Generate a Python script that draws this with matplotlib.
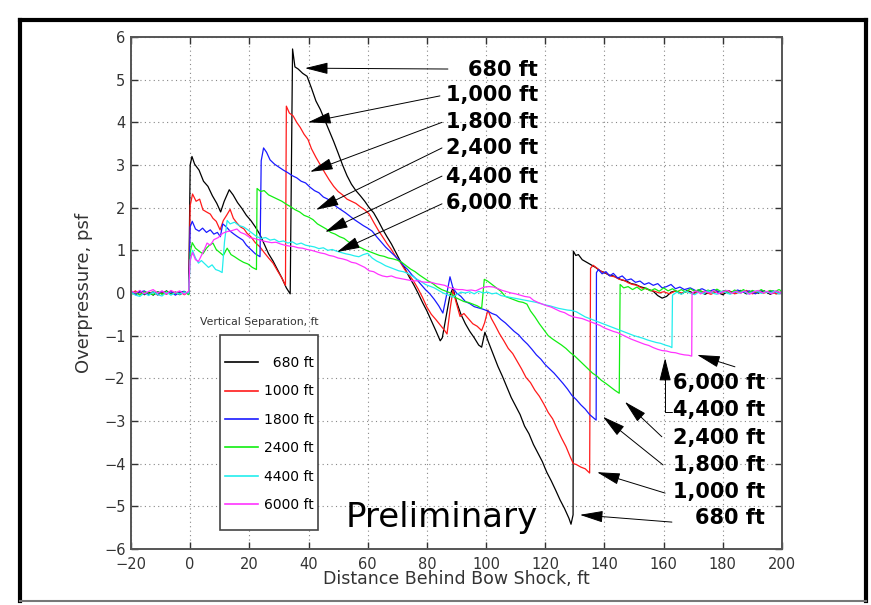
import numpy as np
import matplotlib
matplotlib.use("Agg")
import matplotlib.pyplot as plt
from matplotlib.lines import Line2D
from matplotlib.patches import Rectangle

# ---- measured signatures (distance behind bow shock [ft], overpressure [psf]) ----
sig_680 = [
    (-20, 0.04), (-18.5, -0.03), (-17, 0.05), (-15.5, -0.04), (-14, 0.02), (-12.5, -0.05), (-11, 0.03),
    (-9.5, -0.02), (-8, 0.05), (-6.5, -0.03), (-5, 0.02), (-3.5, -0.04), (-2, 0.03), (-0.5, -0.02),
    (0, 3.0), (0.6, 3.2), (1.5, 3.02), (3, 2.88), (4.5, 2.62), (6, 2.5), (7.5, 2.28), (9, 2.1), (10.3, 1.9),
    (11.5, 2.15), (13.2, 2.42), (14.5, 2.3), (16, 2.12), (17.5, 1.98), (19, 1.82), (20.5, 1.7), (22, 1.55),
    (23.5, 1.38), (25, 1.15), (26.5, 0.92), (28, 0.75), (29.5, 0.55), (31, 0.35), (32.5, 0.12), (33.8, -0.02),
    (34.6, 5.72), (35.4, 5.3), (36.5, 5.25), (38, 5.15), (39.5, 5.08), (41, 4.8), (42.5, 4.5), (44, 4.3),
    (45.5, 4.05), (47, 3.8), (48.5, 3.55), (50, 3.28), (51.5, 3.0), (53, 2.75), (54.5, 2.55), (56, 2.4),
    (57.5, 2.28), (59, 2.15), (60.5, 2.0), (62, 1.88), (63.5, 1.7), (65, 1.5), (66.5, 1.32), (68, 1.15),
    (69.5, 0.95), (71, 0.75), (72.5, 0.58), (74, 0.38), (75.5, 0.2), (77, 0.0), (78.5, -0.22), (80, -0.42),
    (81.5, -0.65), (83, -0.88), (84.5, -1.12), (85.2, -1.05), (86.5, -0.55), (87.8, -0.05), (88.8, 0.12),
    (90, -0.2), (91.5, -0.5), (93, -0.72), (94.5, -0.9), (96, -1.05), (97.5, -1.22), (98.5, -1.27),
    (99.6, -0.92), (100.8, -1.15), (102.5, -1.45), (104, -1.72), (105.5, -1.95), (107, -2.2), (108.5, -2.45),
    (110, -2.65), (111.5, -2.85), (113, -3.12), (114.5, -3.3), (116, -3.55), (117.5, -3.75), (119, -3.95),
    (120.5, -4.2), (122, -4.4), (123.5, -4.62), (125, -4.85), (126.5, -5.05), (128, -5.28), (128.7, -5.42),
    (129.4, -5.2), (129.5, 0.98), (130.3, 0.88), (131.2, 0.9), (132.5, 0.78), (134, 0.72), (135.5, 0.66),
    (137, 0.6), (138.5, 0.52), (140, 0.48), (141.5, 0.42), (143, 0.4), (144.5, 0.35), (146, 0.3),
    (147.5, 0.28), (149, 0.22), (150.5, 0.2), (152, 0.15), (153.5, 0.12), (155, 0.08), (156.5, 0.04),
    (158, -0.06), (159.5, -0.12), (161, -0.08), (162.5, 0.02), (164, 0.05), (166, -0.02), (168, 0.06),
    (170, 0.0), (172, 0.05), (174, -0.03), (176, 0.04), (178, 0.02), (180, -0.04), (182, 0.05), (184, 0.0),
    (186, 0.06), (188, -0.02), (190, 0.04), (192, 0.0), (194, 0.05), (196, -0.03), (198, 0.03), (200, 0.0),
]

sig_1000 = [
    (-20, -0.02), (-18.5, 0.05), (-17, -0.04), (-15.5, 0.03), (-14, -0.03), (-12.5, 0.04), (-11, -0.05),
    (-9.5, 0.02), (-8, -0.03), (-6.5, 0.05), (-5, -0.02), (-3.5, 0.03), (-2, -0.04), (-0.5, 0.03),
    (0, 2.05), (0.8, 2.32), (2, 2.15), (3.2, 2.2), (4.3, 1.95), (5.5, 1.9), (6.8, 1.85), (7.7, 1.75),
    (8.8, 1.68), (10.1, 1.48), (11.2, 1.7), (12.3, 1.82), (13.5, 1.96), (14.6, 1.75), (15.8, 1.64),
    (17, 1.55), (18.2, 1.5), (19.2, 1.4), (20.5, 1.32), (22, 1.18), (23.6, 1.08), (25, 0.95), (26.5, 0.82),
    (28, 0.7), (29.5, 0.52), (31, 0.35), (32.2, 0.18), (32.5, 4.38), (33.5, 4.22), (34.8, 4.15), (36, 4.0),
    (37.2, 3.88), (38.5, 3.72), (39.8, 3.6), (41, 3.38), (42.5, 3.18), (44, 3.0), (45.5, 2.82), (47, 2.65),
    (48.5, 2.5), (50, 2.38), (51.5, 2.3), (53, 2.2), (54.5, 2.15), (56, 2.1), (57.5, 2.02), (59, 1.95),
    (60.5, 1.85), (62, 1.66), (63.5, 1.48), (65, 1.32), (66.5, 1.16), (68, 1.02), (69.5, 0.85), (71, 0.72),
    (72.5, 0.55), (74, 0.42), (75.5, 0.28), (77, 0.1), (78.5, -0.1), (80, -0.33), (81.5, -0.5), (83, -0.62),
    (84.5, -0.75), (86, -0.88), (86.8, -0.96), (88, -0.3), (88.8, 0.06), (89.8, -0.2), (91.2, -0.55),
    (92.5, -0.48), (94, -0.6), (95.5, -0.72), (97, -0.78), (98.5, -0.88), (99.5, -0.7), (100.6, -0.4),
    (101.8, -0.6), (103, -0.75), (104.5, -0.95), (106, -1.12), (107.5, -1.3), (109, -1.42), (110.5, -1.6),
    (112, -1.78), (113.5, -1.98), (115, -2.1), (116.5, -2.28), (118, -2.42), (119.5, -2.6), (121, -2.8),
    (122.5, -2.95), (124, -3.18), (125.5, -3.4), (127, -3.6), (128.5, -3.85), (129.5, -4.0), (130.5, -4.02),
    (132, -4.08), (133.5, -4.12), (135, -4.22), (135.3, 0.58), (136.2, 0.65), (137.5, 0.58), (139, 0.5),
    (140.5, 0.47), (142, 0.4), (143.5, 0.38), (145, 0.32), (146.5, 0.3), (148, 0.24), (149.5, 0.2),
    (151, 0.18), (152.5, 0.12), (154, 0.1), (155.5, 0.06), (157, 0.04), (158.5, 0.0), (160, 0.03),
    (162, -0.02), (164, 0.05), (166, 0.0), (168, 0.04), (170, -0.03), (172, 0.05), (174, 0.02), (176, -0.03),
    (178, 0.04), (180, 0.0), (182, 0.05), (184, -0.02), (186, 0.03), (188, 0.06), (190, -0.02), (192, 0.03),
    (194, 0.0), (196, 0.05), (198, -0.02), (200, 0.03),
]

sig_1800 = [
    (-20, 0.03), (-18.5, -0.04), (-17, 0.02), (-15.5, 0.05), (-14, -0.03), (-12.5, 0.02), (-11, -0.04),
    (-9.5, 0.04), (-8, -0.02), (-6.5, 0.03), (-5, -0.05), (-3.5, 0.02), (-2, 0.04), (-0.5, -0.03),
    (0, 1.55), (0.7, 1.68), (1.8, 1.5), (3, 1.45), (4.2, 1.52), (5.5, 1.42), (6.8, 1.48), (8, 1.38),
    (9.2, 1.42), (10.2, 1.32), (11, 1.62), (12.2, 1.55), (13.5, 1.45), (14.8, 1.38), (16, 1.32), (17.8, 1.24),
    (19, 1.12), (20.5, 1.02), (22, 0.92), (23.6, 0.85), (24, 3.1), (24.8, 3.4), (25.8, 3.3), (27, 3.12),
    (28.5, 3.02), (30, 2.95), (31.5, 2.88), (33, 2.82), (34.5, 2.75), (36, 2.7), (37.5, 2.62), (39, 2.58),
    (40.5, 2.48), (42, 2.4), (43.5, 2.35), (45, 2.25), (46.5, 2.2), (48, 2.1), (49.5, 2.02), (51, 1.95),
    (52.5, 1.88), (54, 1.8), (55.5, 1.72), (57, 1.65), (58.5, 1.58), (60, 1.52), (61.5, 1.45), (63, 1.32),
    (64.5, 1.2), (66, 1.08), (67.5, 0.98), (69, 0.88), (70.5, 0.78), (72, 0.65), (73.5, 0.55), (75, 0.42),
    (76.5, 0.32), (78, 0.2), (79.5, 0.08), (81, -0.02), (82.5, -0.15), (84, -0.3), (85.4, -0.47),
    (86.5, -0.1), (87.8, 0.38), (88.8, 0.12), (90, 0.0), (91.5, -0.08), (93, -0.2), (94.5, -0.25),
    (96, -0.32), (97.5, -0.35), (99, -0.38), (100.5, -0.42), (102, -0.48), (103.5, -0.52), (105, -0.62),
    (106.5, -0.7), (108, -0.8), (109.5, -0.9), (111, -0.98), (112.5, -1.1), (114, -1.2), (115.5, -1.32),
    (117, -1.45), (118.5, -1.55), (120, -1.68), (121.5, -1.78), (123, -1.88), (124.5, -2.0), (126, -2.12),
    (127.5, -2.25), (129, -2.4), (130.5, -2.5), (132, -2.62), (133.5, -2.72), (135, -2.85), (136.2, -2.92),
    (137.2, -2.98), (137.3, 0.48), (138, 0.55), (139.2, 0.45), (140.5, 0.5), (141.8, 0.4), (143, 0.46),
    (144.5, 0.35), (146, 0.4), (147.5, 0.3), (149, 0.33), (150.5, 0.25), (152, 0.28), (153.5, 0.2),
    (155, 0.24), (156.5, 0.18), (158, 0.22), (159.5, 0.12), (161, 0.15), (162.5, 0.2), (164, 0.1),
    (165.5, 0.14), (167, 0.08), (169, 0.12), (171, 0.05), (173, 0.1), (175, 0.03), (177, 0.08), (179, 0.02),
    (181, 0.06), (183, 0.0), (185, 0.07), (187, 0.02), (189, 0.05), (191, -0.02), (193, 0.06), (195, 0.01),
    (197, 0.05), (199, 0.0), (200, 0.03),
]

sig_2400 = [
    (-20, -0.03), (-18.5, 0.02), (-17, -0.05), (-15.5, 0.03), (-14, 0.0), (-12.5, -0.04), (-11, 0.03),
    (-9.5, -0.03), (-8, 0.04), (-6.5, -0.04), (-5, 0.02), (-3.5, -0.02), (-2, 0.03), (-0.5, -0.04),
    (0, 0.95), (0.7, 1.18), (1.8, 1.05), (3, 0.98), (4.3, 0.92), (5.5, 1.05), (6.5, 1.12), (7.7, 1.17),
    (8.8, 1.02), (10, 0.95), (11.2, 0.88), (12.5, 1.05), (13.8, 0.9), (15, 0.85), (16.5, 0.78), (18, 0.72),
    (19.5, 0.68), (21, 0.6), (22.4, 0.55), (22.6, 2.45), (23.8, 2.38), (25, 2.4), (26.5, 2.3), (28, 2.25),
    (29.5, 2.2), (31, 2.15), (32.5, 2.08), (34, 2.02), (35.5, 1.95), (37, 1.9), (38.5, 1.82), (40, 1.78),
    (41.5, 1.72), (43, 1.62), (44.5, 1.56), (46, 1.5), (47.5, 1.42), (49, 1.38), (50.5, 1.32), (52, 1.28),
    (53.5, 1.2), (55, 1.15), (56.5, 1.1), (58, 1.05), (59.5, 1.0), (61, 0.96), (62.5, 0.92), (64, 0.88),
    (65.5, 0.86), (67, 0.82), (68.5, 0.8), (70, 0.77), (71.5, 0.72), (73, 0.64), (74.5, 0.56), (76, 0.5),
    (77.5, 0.42), (79, 0.35), (80.5, 0.28), (82, 0.22), (83.5, 0.14), (85, 0.08), (86.5, 0.04), (88, 0.0),
    (89.5, -0.1), (91, -0.15), (92.5, -0.2), (94, -0.22), (95.5, -0.26), (97, -0.3), (98.5, -0.36),
    (99.4, 0.32), (100.5, 0.28), (102, 0.2), (103.5, 0.12), (105, 0.04), (106.5, -0.08), (108, -0.12),
    (109.5, -0.16), (111, -0.2), (112.5, -0.22), (113.8, -0.26), (115, -0.42), (116.5, -0.56), (118, -0.72),
    (119.5, -0.86), (121, -1.0), (122.5, -1.08), (124, -1.15), (125.5, -1.22), (127, -1.3), (128.5, -1.4),
    (130, -1.48), (131.5, -1.58), (133, -1.68), (134.5, -1.78), (136, -1.88), (137.5, -1.95), (139, -2.05),
    (140.5, -2.12), (142, -2.2), (143.5, -2.28), (145, -2.35), (145.3, 0.2), (146.5, 0.12), (148, 0.15),
    (149.5, 0.08), (151, 0.14), (152.5, 0.06), (154, 0.12), (155.5, 0.05), (157, 0.1), (158.5, 0.04),
    (160, 0.12), (161.5, 0.05), (163, 0.1), (164.5, 0.03), (166, 0.08), (167.5, 0.02), (169, 0.1),
    (170.5, 0.04), (172, 0.08), (173.5, 0.0), (175, 0.07), (176.5, 0.02), (178, 0.09), (179.5, 0.03),
    (181, 0.06), (182.5, -0.01), (184, 0.07), (185.5, 0.02), (187, 0.08), (188.5, 0.0), (190, 0.06),
    (191.5, 0.02), (193, 0.08), (194.5, 0.01), (196, 0.06), (197.5, 0.03), (199, 0.08), (200, 0.04),
]

sig_4400 = [
    (-20, 0.02), (-18.5, -0.05), (-17, -0.08), (-15.5, 0.0), (-14, -0.06), (-12.5, 0.03), (-11, -0.04),
    (-9.5, -0.07), (-8, 0.02), (-6.5, -0.05), (-5, 0.01), (-3.5, -0.03), (-2, 0.02), (-0.5, 0.0),
    (0, 0.75), (0.8, 1.0), (1.8, 0.82), (2.8, 0.7), (3.8, 0.76), (5, 0.68), (6.2, 0.6), (7.4, 0.66),
    (8.6, 0.55), (9.8, 0.52), (10.8, 0.48), (11.6, 1.2), (12.5, 1.7), (13.5, 1.62), (15, 1.66), (16.5, 1.58),
    (18, 1.55), (19.5, 1.48), (21, 1.4), (22.5, 1.32), (24, 1.28), (25.5, 1.3), (27, 1.24), (28.5, 1.26),
    (30, 1.2), (31.5, 1.22), (33, 1.17), (34.5, 1.2), (36, 1.14), (37.5, 1.17), (39, 1.12), (40.5, 1.1),
    (42, 1.08), (43.5, 1.04), (45, 1.06), (46.5, 1.0), (48, 1.02), (49.5, 0.98), (51, 0.95), (52.5, 0.92),
    (54, 0.9), (55.5, 0.87), (57, 0.85), (58.5, 0.9), (60, 0.93), (61.5, 0.82), (63, 0.75), (64.5, 0.7),
    (66, 0.64), (67.5, 0.6), (69, 0.56), (70.5, 0.52), (72, 0.5), (73.5, 0.46), (75, 0.4), (76.5, 0.33),
    (78, 0.27), (79.5, 0.2), (81, 0.16), (82.5, 0.12), (84, 0.06), (85.5, 0.0), (87, -0.04), (88.8, -0.1),
    (90, -0.04), (91.5, 0.02), (93, 0.0), (94.5, 0.03), (96, -0.02), (97.5, 0.04), (99, 0.0), (100.5, 0.02),
    (102, -0.02), (103.5, 0.0), (105, -0.06), (106.5, -0.08), (108, -0.1), (109.5, -0.12), (111, -0.14),
    (112.5, -0.16), (114, -0.18), (115.5, -0.2), (117, -0.22), (118.5, -0.25), (120, -0.28), (121.5, -0.3),
    (123, -0.33), (124.5, -0.36), (126, -0.38), (127.5, -0.4), (129, -0.41), (130.5, -0.44), (132, -0.5),
    (133.5, -0.56), (135, -0.6), (136.5, -0.64), (138, -0.68), (139.5, -0.72), (141, -0.76), (142.5, -0.8),
    (144, -0.84), (145.5, -0.88), (147, -0.92), (148.5, -0.96), (150, -1.0), (151.5, -1.03), (153, -1.06),
    (154.5, -1.1), (156, -1.13), (157.5, -1.16), (159, -1.18), (160.5, -1.22), (162, -1.25), (162.8, -1.28),
    (163, -0.05), (164.5, 0.02), (166, -0.03), (167.5, 0.04), (169, 0.0), (170.5, -0.04), (172, 0.03),
    (173.5, -0.02), (175, 0.05), (176.5, 0.0), (178, -0.03), (179.5, 0.04), (181, 0.01), (182.5, -0.03),
    (184, 0.03), (185.5, 0.0), (187, 0.04), (188.5, -0.02), (190, 0.02), (191.5, 0.05), (193, -0.01),
    (194.5, 0.03), (196, 0.0), (197.5, 0.04), (199, -0.02), (200, 0.02),
]

sig_6000 = [
    (-20, 0.05), (-18.5, 0.0), (-17, 0.06), (-15.5, -0.02), (-14, 0.04), (-12.5, 0.08), (-11, 0.0),
    (-9.5, 0.05), (-8, -0.02), (-6.5, 0.06), (-5, 0.01), (-3.5, 0.05), (-2, -0.03), (-0.5, 0.04),
    (0, 0.78), (0.8, 0.95), (1.8, 0.78), (2.8, 0.74), (3.8, 0.88), (4.8, 1.02), (5.7, 1.17), (6.8, 1.12),
    (8, 1.25), (9.5, 1.3), (11, 1.4), (12.5, 1.44), (14, 1.46), (15.8, 1.5), (17, 1.42), (18.5, 1.38),
    (20.2, 1.3), (21.5, 1.28), (23, 1.25), (24.5, 1.22), (26, 1.2), (27.5, 1.18), (29, 1.19), (30.5, 1.15),
    (32, 1.12), (33.5, 1.1), (35, 1.09), (36.5, 1.06), (38, 1.05), (39.5, 1.02), (41, 1.0), (42.5, 0.97),
    (44, 0.94), (45.5, 0.92), (47, 0.88), (48.5, 0.86), (50, 0.82), (51.5, 0.8), (53, 0.77), (54.5, 0.72),
    (56, 0.7), (57.5, 0.65), (59, 0.6), (60.5, 0.52), (62, 0.5), (63.5, 0.44), (65, 0.4), (66.5, 0.38),
    (68, 0.4), (69.5, 0.36), (71, 0.34), (72.5, 0.32), (74, 0.3), (75.5, 0.28), (77, 0.29), (78.5, 0.26),
    (80, 0.25), (81.5, 0.25), (83, 0.22), (84.5, 0.2), (86, 0.18), (87.5, 0.13), (89, 0.1), (90.5, 0.08),
    (92, 0.08), (93.5, 0.06), (95, 0.07), (96.5, 0.05), (98, 0.1), (99.5, 0.14), (101, 0.15), (102.5, 0.14),
    (104, 0.1), (105.5, 0.06), (107, 0.03), (108.5, 0.0), (110, -0.02), (111.5, -0.05), (113, -0.08),
    (114.8, -0.1), (116, -0.17), (117.5, -0.22), (119, -0.26), (120.5, -0.3), (122, -0.33), (123.5, -0.38),
    (125, -0.43), (126.5, -0.46), (128, -0.52), (129.5, -0.56), (131, -0.58), (132.5, -0.6), (134, -0.64),
    (135.5, -0.68), (137, -0.72), (138.5, -0.76), (140, -0.82), (141.5, -0.86), (143, -0.9), (144.5, -0.93),
    (146, -0.98), (147.5, -1.03), (149, -1.08), (150.5, -1.12), (152, -1.16), (153.5, -1.2), (155, -1.23),
    (156.5, -1.28), (158, -1.32), (159.5, -1.35), (161, -1.36), (162.5, -1.39), (164, -1.4), (165.5, -1.43),
    (167, -1.45), (168.5, -1.46), (169.5, -1.48), (169.6, 0.0), (171, 0.05), (172.5, -0.02), (174, 0.04),
    (175.5, 0.0), (177, 0.06), (178.5, -0.02), (180, 0.03), (181.5, 0.06), (183, -0.01), (184.5, 0.04),
    (186, 0.0), (187.5, 0.05), (189, -0.03), (190.5, 0.03), (192, 0.06), (193.5, 0.0), (195, 0.04),
    (196.5, -0.02), (198, 0.05), (199.5, 0.0), (200, 0.02),
]

signatures = [sig_680, sig_1000, sig_1800, sig_2400, sig_4400, sig_6000]
legend_labels = ["  680 ft", "1000 ft", "1800 ft", "2400 ft", "4400 ft", "6000 ft"]
line_colors = ["black", "#ff1a1a", "#1a1aff", "#11ee11", "#22eeee", "#ff33ff"]

# callout labels: text, arrow tip (x, y), arrow tail (x, y), label y
bow_labels = ["680 ft", "1,000 ft", "1,800 ft", "2,400 ft", "4,400 ft", "6,000 ft"]
bow_tips = [(38.8, 5.27), (39.8, 4.0), (40.5, 2.84), (42.5, 1.95), (45.6, 1.43), (49.6, 0.96)]
bow_tails = [(87.1, 5.25), (84.4, 4.62), (85.1, 4.0), (85.1, 3.4), (85.1, 2.74), (85.1, 2.09)]
bow_text_y = [5.23, 4.64, 4.0, 3.4, 2.72, 2.11]

tail_labels = ["6,000 ft", "4,400 ft", "2,400 ft", "1,800 ft", "1,000 ft", "680 ft"]
tail_tips = [(171.3, -1.45), (160.5, -1.52), (146.9, -2.55), (139.5, -2.9), (137.5, -4.2), (131.7, -5.2)]
tail_tails = [(184.1, -1.73), (162.8, -2.79), (159.4, -3.37), (159.8, -4.03), (160.5, -4.69), (162.8, -5.37)]
tail_text_y = [-2.11, -2.74, -3.40, -4.03, -4.66, -5.27]

plt.rcParams["font.family"] = "DejaVu Sans"
text_grey = "#333333"

fig = plt.figure(figsize=(8.71, 6.05), dpi=100)
ax = fig.add_axes([0.1504, 0.0926, 0.7474, 0.8462])

for sig, color in zip(signatures, line_colors):
    xy = np.array(sig)
    ax.plot(xy[:, 0], xy[:, 1], color=color, lw=0.9)

ax.set_xlim(-20, 200)
ax.set_ylim(-6, 6)
ax.set_xticks(np.arange(-20, 201, 20))
ax.set_yticks(np.arange(-6, 7, 1))
ax.grid(True, color="#888888", linestyle=(0, (1, 3)), linewidth=0.8)
ax.tick_params(direction="in", length=5, width=1, top=True, right=True,
               labelsize=10.5, colors=text_grey)
ax.tick_params(axis="x", pad=5.5)
ax.tick_params(axis="y", pad=4)
for sp in ax.spines.values():
    sp.set_color("#555555")
    sp.set_linewidth(1.4)

ax.set_xlabel("Distance Behind Bow Shock, ft", fontsize=12.5, color=text_grey, labelpad=-1)
ax.set_ylabel("Overpressure, psf", fontsize=13, color=text_grey, labelpad=8)

# legend: hand-placed box, title above it
ax.add_patch(Rectangle((0.1367, 0.037), 0.1505, 0.381, transform=ax.transAxes,
                       facecolor="white", edgecolor="#444444", lw=1.2, zorder=4))
handles = [Line2D([], [], color=c, lw=1.2) for c in line_colors]
leg = ax.legend(handles, legend_labels, loc="upper left", bbox_to_anchor=(0.1444, 0.377),
                borderaxespad=0, borderpad=0, frameon=False, handlelength=2.4,
                handletextpad=0.4, labelspacing=1.04, prop={"size": 10})
leg.set_zorder(5)
ax.text(0.106, 0.443, "Vertical Separation, ft", transform=ax.transAxes,
        fontsize=7.8, color=text_grey, va="center")

arrow_style = dict(arrowstyle="-|>,head_length=1.2,head_width=0.3", color="black",
                   lw=0.7, mutation_scale=12, shrinkA=0, shrinkB=0)

for label, tip, tail, ty in zip(bow_labels, bow_tips, bow_tails, bow_text_y):
    ax.annotate("", xy=tip, xytext=tail, arrowprops=arrow_style)
    ax.text(117.5, ty, label, ha="right", va="center", fontsize=15, fontweight="bold")

for label, tip, tail, ty in zip(tail_labels, tail_tips, tail_tails, tail_text_y):
    props = dict(arrow_style)
    if label == "4,400 ft":
        props["connectionstyle"] = "angle,angleA=180,angleB=90,rad=0"
    ax.annotate("", xy=tip, xytext=tail, arrowprops=props)
    ax.text(194.3, ty, label, ha="right", va="center", fontsize=15, fontweight="bold")

ax.text(52.5, -5.27, "Preliminary", ha="left", va="center", fontsize=24.5)

# page frame around the plot
frame_l, frame_r = 20 / 871, 866 / 871
frame_t, frame_b = 1 - 20 / 605, 1 - 601 / 605
fig.add_artist(Line2D([frame_l, frame_r], [frame_t, frame_t], color="black", lw=3))
fig.add_artist(Line2D([frame_l, frame_l], [frame_t, frame_b], color="black", lw=3))
fig.add_artist(Line2D([frame_r, frame_r], [frame_t, frame_b], color="black", lw=3))
fig.add_artist(Line2D([frame_l, frame_r], [frame_b, frame_b], color="#777777", lw=1.5))

fig.savefig("out.png", dpi=100)
